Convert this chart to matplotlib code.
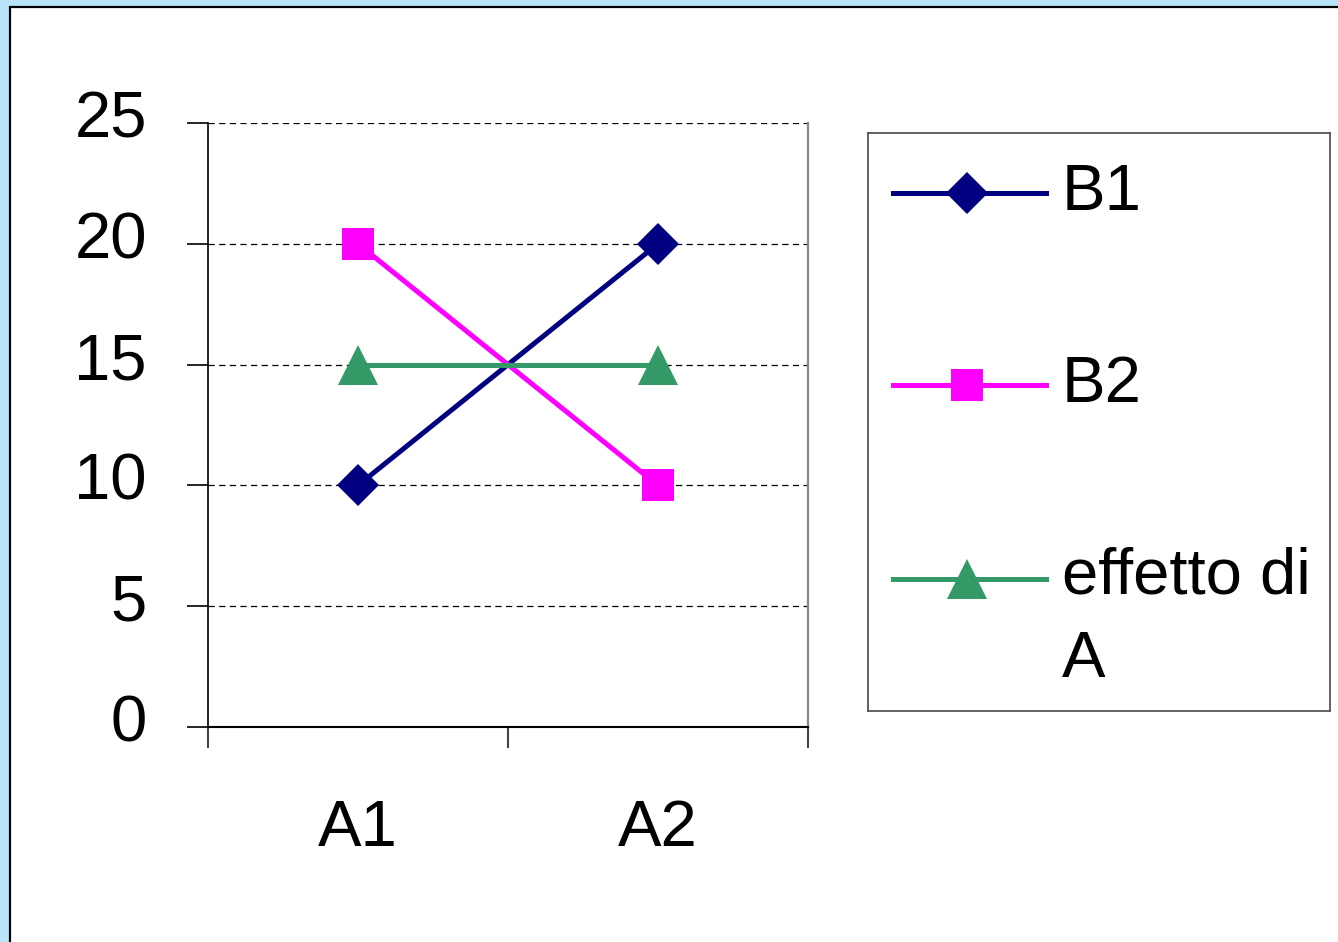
import matplotlib
matplotlib.use("Agg")
import matplotlib.pyplot as plt
from matplotlib.patches import Rectangle
import matplotlib.transforms as mtransforms

plt.rcParams['font.family'] = ['Liberation Sans', 'DejaVu Sans']

# Data
categories = ["A1", "A2"]
b1 = [10, 20]
b2 = [20, 10]
effetto_a = [15, 15]
series_labels = [["B1"], ["B2"], ["effetto di", "A"]]
y_ticks = [0, 5, 10, 15, 20, 25]

colors = ["#000080", "#FF00FF", "#339966"]
markers = ["D", "s", "^"]
msizes = [21.5, 23, 28.5]

W, H = 1338, 942
fig = plt.figure(figsize=(W / 100, H / 100), dpi=100)
fig.patch.set_facecolor("#B9E5FB")

# white slide panel behind everything
panel = Rectangle((10 / W, -0.1), 1.2, (H - 7) / H + 0.1, transform=fig.transFigure,
                  facecolor="white", edgecolor="black", linewidth=1.6, zorder=-10)
fig.patches.append(panel)


def px_box(x0, y0, x1, y1):
    return [x0 / W, (H - y1) / H, (x1 - x0) / W, (y1 - y0) / H]


ax = fig.add_axes(px_box(208, 123, 808, 727))
ax.set_facecolor("none")
x = list(range(len(categories)))

for vals, c, m, ms in zip([b1, b2, effetto_a], colors, markers, msizes):
    ax.plot(x, vals, color=c, lw=3.6, marker=m, markersize=ms,
            markeredgewidth=0, zorder=3, clip_on=False)

ax.set_xlim(-0.5, len(categories) - 0.5)
ax.set_ylim(0, 25)

ax.set_yticks(y_ticks)
ax.set_yticklabels([str(v) for v in y_ticks], fontsize=47)
ax.tick_params(axis='y', length=15, width=1.2, pad=29, color='black')
lift = mtransforms.ScaledTranslation(0, 0.09, fig.dpi_scale_trans)
for lab in ax.get_yticklabels():
    lab.set_transform(lab.get_transform() + lift)

# category boundaries carry the ticks, labels sit at the category centres
ax.set_xticks([i - 0.5 for i in range(len(categories) + 1)])
ax.set_xticklabels([])
ax.set_xticks(x, minor=True)
ax.set_xticklabels(categories, minor=True, fontsize=47)
ax.tick_params(axis='x', which='major', length=15, width=1.5, color='#444444')
ax.tick_params(axis='x', which='minor', length=0, pad=52)

for v in y_ticks[1:]:
    ax.axhline(v, color='black', lw=0.9, ls=(0, (5, 3.5)), zorder=1)

ax.spines['top'].set_visible(False)
ax.spines['right'].set_color('#888888')
ax.spines['right'].set_linewidth(1.6)
ax.spines['left'].set_linewidth(1.2)
ax.spines['bottom'].set_linewidth(1.5)

# legend box
lx0, ly0, lx1, ly1 = 868, 133, 1330, 711
lax = fig.add_axes(px_box(lx0, ly0, lx1, ly1))
lax.set_xlim(lx0, lx1)
lax.set_ylim(ly1, ly0)
lax.set_xticks([])
lax.set_yticks([])
for s in lax.spines.values():
    s.set_color('#555555')
    s.set_linewidth(1.3)

line_y = [193, 385, 579]
base_y = [210, 402, 593]
line_step = 84
for lines, c, m, ms, ly, by in zip(series_labels, colors, markers, msizes, line_y, base_y):
    lax.plot([893, 1046], [ly, ly], color=c, lw=3.6)
    lax.plot([967], [ly], color=c, marker=m, markersize=ms, markeredgewidth=0)
    for k, txt in enumerate(lines):
        lax.text(1062, by + k * line_step, txt, fontsize=47, va='baseline', ha='left')

fig.savefig("out.png", dpi=100, facecolor=fig.get_facecolor())
